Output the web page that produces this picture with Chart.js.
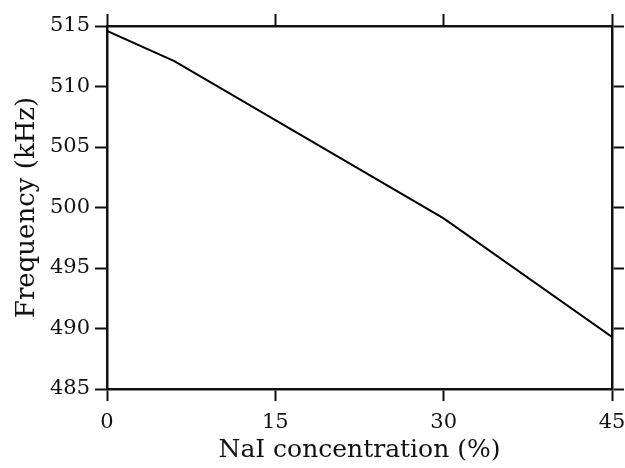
<!DOCTYPE html>
<html>
<head>
<meta charset="utf-8">
<script src="https://cdn.jsdelivr.net/npm/chart.js@4/dist/chart.umd.min.js"></script>
<style>
  html, body { margin: 0; padding: 0; background: #fff; }
  #wrap { width: 625px; height: 468px; }
</style>
</head>
<body>
<div id="wrap"><canvas id="freq"></canvas></div>
<script>
// NaI concentration (%) vs resonance frequency (kHz)
const concentration = [0, 6, 30, 45];
const frequency = [514.6, 512.1, 499.1, 489.3];
const xTicks = [0, 15, 30, 45];
const yTicks = [485, 490, 495, 500, 505, 510, 515];

const ink = '#111';
const serif = 'DejaVu Serif';

// tick marks only, no grid inside the plot
function markGrid() {
    return {
        drawOnChartArea: false,
        drawTicks: true,
        tickLength: 12,
        tickWidth: 2,
        tickColor: ink
    };
}

function frame() {
    return { display: true, color: ink, width: 2.5 };
}

// pin the axis box size and drop the overhang padding for edge labels
function fixSize(prop, value) {
    return function (scale) {
        scale[prop] = value;
        scale.paddingLeft = 0;
        scale.paddingRight = 0;
        scale.paddingTop = 0;
        scale.paddingBottom = 0;
    };
}

const points = concentration.map((x, i) => ({ x: x, y: frequency[i] }));

new Chart(document.getElementById('freq'), {
    type: 'line',
    data: {
        datasets: [{
            data: points,
            borderColor: '#000',
            borderWidth: 2,
            pointRadius: 0,
            tension: 0,
            xAxisID: 'x',
            yAxisID: 'y'
        }]
    },
    options: {
        responsive: true,
        maintainAspectRatio: false,
        animation: false,
        layout: { padding: 0 },
        plugins: {
            legend: { display: false },
            tooltip: { enabled: false }
        },
        scales: {
            x: {
                type: 'linear',
                position: 'bottom',
                min: 0,
                max: 45,
                afterBuildTicks: (s) => { s.ticks = xTicks.map(v => ({ value: v })); },
                grid: markGrid(),
                border: frame(),
                ticks: {
                    color: ink,
                    font: { family: serif, size: 21 },
                    padding: 9,
                    maxRotation: 0
                },
                title: {
                    display: true,
                    text: 'NaI concentration (%)',
                    color: ink,
                    font: { family: serif, size: 25 },
                    padding: { top: 0, bottom: 3 }
                },
                afterFit: fixSize('height', 79)
            },
            x2: {
                type: 'linear',
                position: 'top',
                min: 0,
                max: 45,
                afterBuildTicks: (s) => { s.ticks = xTicks.map(v => ({ value: v })); },
                grid: markGrid(),
                border: frame(),
                ticks: { display: false },
                afterFit: fixSize('height', 26)
            },
            y: {
                type: 'linear',
                position: 'left',
                min: 485,
                max: 515,
                afterBuildTicks: (s) => { s.ticks = yTicks.map(v => ({ value: v })); },
                grid: markGrid(),
                border: frame(),
                ticks: {
                    color: ink,
                    font: { family: serif, size: 21 },
                    padding: 5
                },
                title: {
                    display: true,
                    text: 'Frequency (kHz)',
                    color: ink,
                    font: { family: serif, size: 26 },
                    padding: { top: 12, bottom: 0 }
                },
                afterFit: fixSize('width', 107)
            },
            y2: {
                type: 'linear',
                position: 'right',
                min: 485,
                max: 515,
                afterBuildTicks: (s) => { s.ticks = yTicks.map(v => ({ value: v })); },
                grid: markGrid(),
                border: frame(),
                ticks: { display: false },
                afterFit: fixSize('width', 13)
            }
        }
    }
});
</script>
</body>
</html>
